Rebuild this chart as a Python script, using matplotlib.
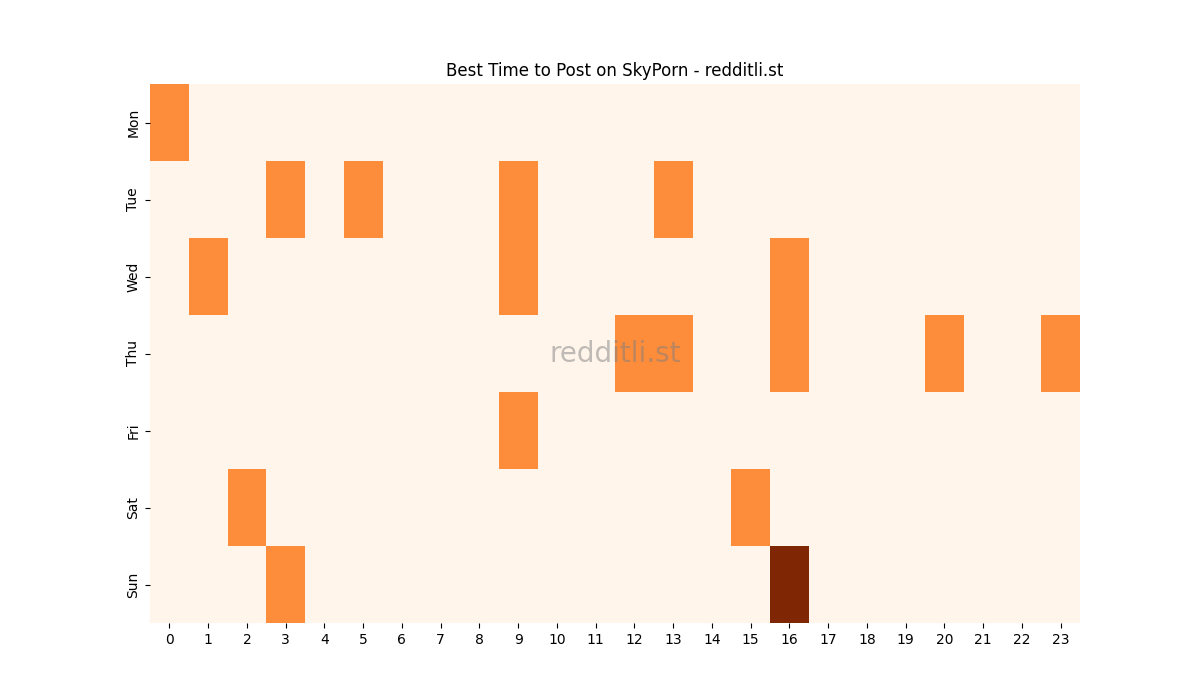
import matplotlib

matplotlib.use("Agg")
import matplotlib.pyplot as plt
import numpy as np
import seaborn as sns

days = ["Mon", "Tue", "Wed", "Thu", "Fri", "Sat", "Sun"]
hours = list(range(24))

# hour -> score for each day (all other hours are 0)
mon = {0: 1}
tue = {3: 1, 5: 1, 9: 1, 13: 1}
wed = {1: 1, 9: 1, 16: 1}
thu = {12: 1, 13: 1, 16: 1, 20: 1, 23: 1}
fri = {9: 1}
sat = {2: 1, 15: 1}
sun = {3: 1, 16: 2}

grid = np.zeros((len(days), len(hours)))
for i, row in enumerate([mon, tue, wed, thu, fri, sat, sun]):
    for hour, value in row.items():
        grid[i, hour] = value

figure, axis = plt.subplots(figsize=(12, 7), dpi=100)
sns.heatmap(grid, cmap="Oranges", cbar=False, ax=axis,
            xticklabels=hours, yticklabels=days)
axis.set_title("Best Time to Post on SkyPorn - redditli.st")
axis.text(0.5, 0.5, "redditli.st", transform=axis.transAxes, ha="center",
          va="center", fontsize=20, color="gray", alpha=0.5)
figure.savefig("out.png")
